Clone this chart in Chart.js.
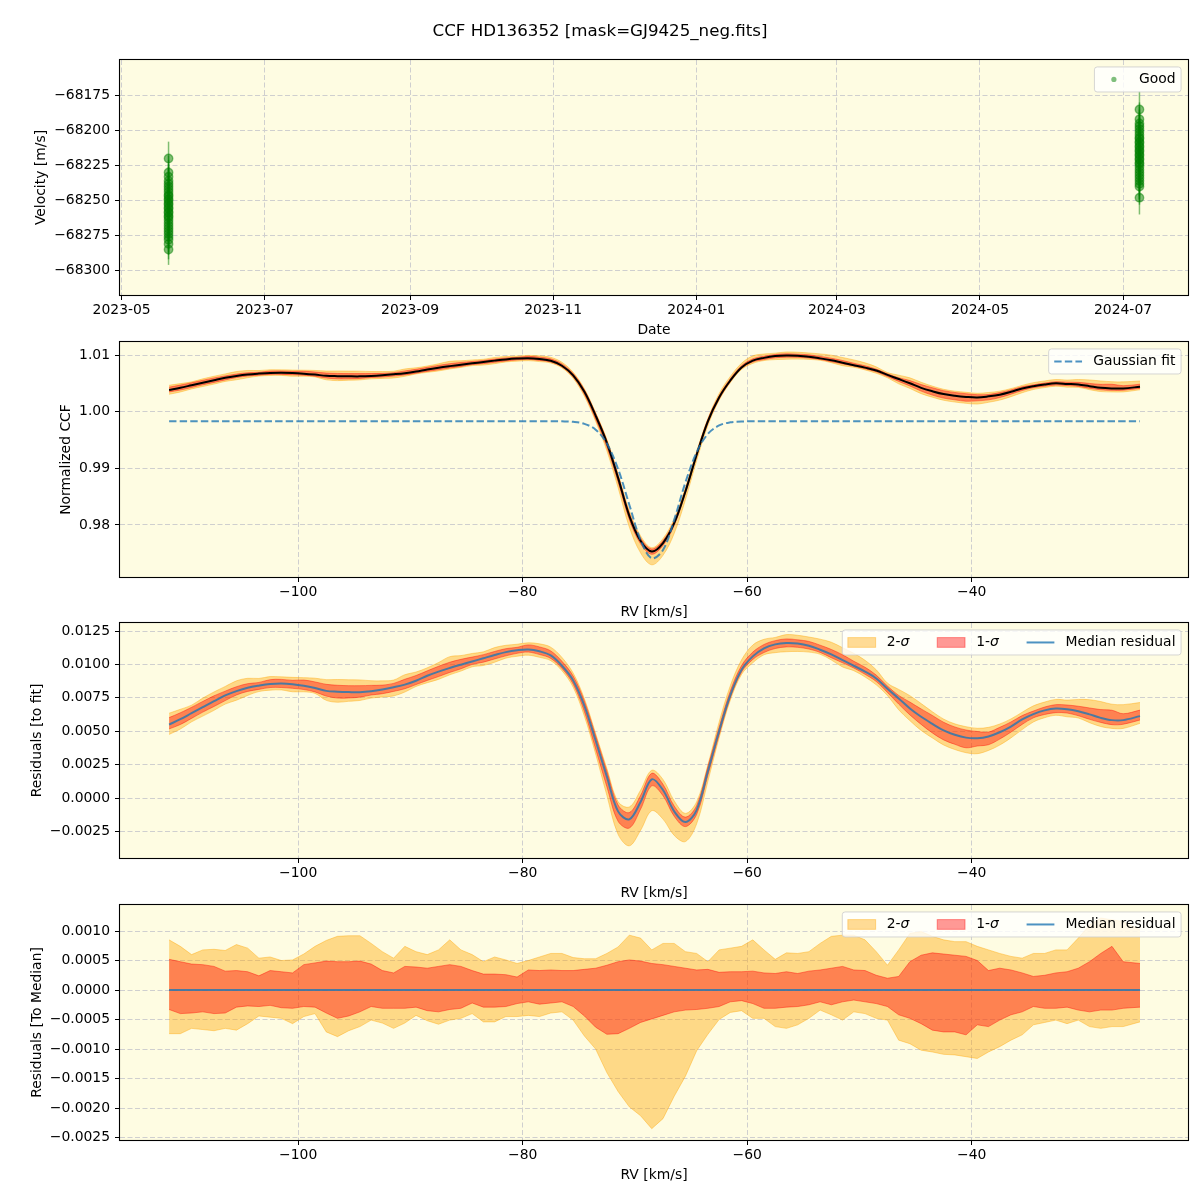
<!DOCTYPE html>
<html>
<head>
<meta charset="utf-8">
<title>CCF HD136352</title>
<script src="https://cdn.jsdelivr.net/npm/chart.js@4.4.1/dist/chart.umd.min.js"></script>
<style>
  html, body { margin:0; padding:0; background:#ffffff; }
  #fig { position:relative; width:1200px; height:1200px; overflow:hidden; background:#ffffff; }
  #fig canvas { position:absolute; left:0; }
</style>
</head>
<body>
<div id="fig">
  <canvas id="pRV"  width="1200" height="345" style="top:0px"></canvas>
  <canvas id="pCCF" width="1200" height="310" style="top:320px"></canvas>
  <canvas id="pFit" width="1200" height="310" style="top:600px"></canvas>
  <canvas id="pMed" width="1200" height="318" style="top:882px"></canvas>
</div>
<script>
// ====================== DATA ======================
const figureTitle = 'CCF HD136352 [mask=GJ9425_neg.fits]';

// --- Panel 1: radial velocities (two observing nights) ---
const nightDates = ['2023-05-21', '2024-07-08'];
const night1Vel = [-68252,-68244,-68261,-68238,-68270,-68249,-68256,-68233,-68276,-68247,-68259,-68220,-68264,-68242,-68253,-68281,-68236,-68268,-68250,-68258,-68230,-68274,-68246,-68262,-68255,-68240,-68285,-68266,-68272,-68278];
const night1Err = [11,12,11,12,11,12,11,12,11,12,12,12,11,12,11,11,12,11,12,12,12,11,12,11,12,12,11,11,12,11];
const night2Vel = [-68212,-68203,-68221,-68197,-68230,-68208,-68215,-68192,-68236,-68206,-68218,-68185,-68224,-68201,-68214,-68240,-68195,-68228,-68209,-68217,-68199,-68234,-68205,-68223,-68211,-68248,-68220,-68226,-68238,-68232];
const night2Err = [13,12,13,12,13,12,13,12,13,13,12,13,12,13,12,13,12,13,12,13,12,13,12,13,12,12,13,12,13,12];

const dateTickLabels = ['2023-05','2023-07','2023-09','2023-11','2024-01','2024-03','2024-05','2024-07'];
const velTicks = [-68300,-68275,-68250,-68225,-68200,-68175];
const velTickLabels = ['\u221268300','\u221268275','\u221268250','\u221268225','\u221268200','\u221268175'];

// --- Panels 2-4: CCF on the RV grid [km/s] ---
const rv = [-111.5,-110.5,-109.5,-108.5,-107.5,-106.5,-105.5,-104.5,-103.5,-102.5,
  -101.5,-100.5,-99.5,-98.5,-97.5,-96.5,-95.5,-94.5,-93.5,-92.5,
  -91.5,-90.5,-89.5,-88.5,-87.5,-86.5,-85.5,-84.5,-83.5,-82.5,
  -81.5,-80.5,-79.5,-78.5,-77.5,-76.5,-75.5,-74.5,-73.5,-72.5,
  -71.5,-70.5,-69.5,-68.5,-67.5,-66.5,-65.5,-64.5,-63.5,-62.5,
  -61.5,-60.5,-59.5,-58.5,-57.5,-56.5,-55.5,-54.5,-53.5,-52.5,
  -51.5,-50.5,-49.5,-48.5,-47.5,-46.5,-45.5,-44.5,-43.5,-42.5,
  -41.5,-40.5,-39.5,-38.5,-37.5,-36.5,-35.5,-34.5,-33.5,-32.5,
  -31.5,-30.5,-29.5,-28.5,-27.5,-26.5,-25.0];

// median normalized CCF
const ccfMedian = [1.00381,1.00421,1.00466,1.00511,1.00556,1.00599,1.00631,1.00656,1.00672,1.00684,
  1.00688,1.00683,1.00671,1.00654,1.00633,1.00627,1.00624,1.00623,1.00630,1.00643,
  1.00660,1.00680,1.00709,1.00746,1.00777,1.00804,1.00829,1.00853,1.00877,1.00901,
  1.00923,1.00937,1.00943,1.00929,1.00898,1.00810,1.00640,1.00350,0.99930,0.99450,
  0.98830,0.98160,0.97720,0.97530,0.97680,0.98030,0.98590,0.99240,0.99830,1.00250,
  1.00550,1.00780,1.00900,1.00950,1.00981,1.00991,1.00987,1.00971,1.00941,1.00906,
  1.00863,1.00821,1.00777,1.00726,1.00649,1.00576,1.00501,1.00420,1.00360,1.00310,
  1.00280,1.00260,1.00250,1.00270,1.00300,1.00350,1.00410,1.00450,1.00480,1.00500,
  1.00490,1.00480,1.00450,1.00420,1.00410,1.00410,1.00440];

// Gaussian fit sampled on the grid
const gaussFit = [0.99831,0.99831,0.99831,0.99831,0.99831,0.99831,0.99831,0.99831,0.99831,0.99831,
  0.99831,0.99831,0.99831,0.99831,0.99831,0.99831,0.99831,0.99831,0.99831,0.99831,
  0.99831,0.99831,0.99831,0.99831,0.99831,0.99831,0.99831,0.99831,0.99831,0.99831,
  0.99831,0.99831,0.99831,0.99831,0.99831,0.99829,0.99820,0.99785,0.99682,0.99438,
  0.98987,0.98357,0.97737,0.97411,0.97556,0.98092,0.98750,0.99284,0.99606,0.99756,
  0.99811,0.99826,0.99830,0.99831,0.99831,0.99831,0.99831,0.99831,0.99831,0.99831,
  0.99831,0.99831,0.99831,0.99831,0.99831,0.99831,0.99831,0.99831,0.99831,0.99831,
  0.99831,0.99831,0.99831,0.99831,0.99831,0.99831,0.99831,0.99831,0.99831,0.99831,
  0.99831,0.99831,0.99831,0.99831,0.99831,0.99831,0.99831];

// median residual to the fit
const residToFit = [0.00550,0.00590,0.00635,0.00680,0.00725,0.00768,0.00800,0.00825,0.00841,0.00853,
  0.00857,0.00852,0.00840,0.00823,0.00802,0.00796,0.00793,0.00792,0.00799,0.00812,
  0.00829,0.00849,0.00878,0.00915,0.00946,0.00973,0.00998,0.01022,0.01046,0.01070,
  0.01092,0.01106,0.01112,0.01098,0.01067,0.00990,0.00880,0.00690,0.00430,0.00160,
  -0.00100,-0.00160,-0.00030,0.00140,0.00060,-0.00100,-0.00180,-0.00090,0.00200,0.00500,
  0.00770,0.00960,0.01060,0.01120,0.01150,0.01160,0.01156,0.01140,0.01110,0.01075,
  0.01032,0.00990,0.00946,0.00895,0.00818,0.00745,0.00670,0.00608,0.00555,0.00506,
  0.00473,0.00452,0.00448,0.00461,0.00492,0.00535,0.00588,0.00628,0.00656,0.00670,
  0.00665,0.00650,0.00626,0.00600,0.00583,0.00583,0.00613];

// percentile offsets relative to the median (panel 4)
const sig2Hi = [0.00085,0.00074,0.00060,0.00068,0.00069,0.00067,0.00077,0.00071,0.00054,0.00056,
  0.00050,0.00051,0.00061,0.00074,0.00084,0.00091,0.00092,0.00092,0.00079,0.00065,
  0.00054,0.00074,0.00065,0.00060,0.00068,0.00085,0.00068,0.00060,0.00048,0.00056,
  0.00051,0.00045,0.00050,0.00056,0.00062,0.00062,0.00055,0.00053,0.00053,0.00062,
  0.00073,0.00093,0.00088,0.00068,0.00079,0.00079,0.00065,0.00062,0.00048,0.00068,
  0.00071,0.00074,0.00085,0.00068,0.00052,0.00063,0.00062,0.00065,0.00079,0.00091,
  0.00093,0.00093,0.00085,0.00065,0.00042,0.00068,0.00096,0.00099,0.00091,0.00085,
  0.00082,0.00082,0.00074,0.00068,0.00062,0.00057,0.00054,0.00062,0.00062,0.00068,
  0.00068,0.00088,0.00110,0.00122,0.00119,0.00116,0.00102];
const sig1Hi = [0.00052,0.00048,0.00044,0.00043,0.00040,0.00032,0.00033,0.00031,0.00024,0.00033,
  0.00031,0.00029,0.00043,0.00046,0.00049,0.00048,0.00048,0.00049,0.00044,0.00033,
  0.00029,0.00040,0.00039,0.00037,0.00040,0.00043,0.00040,0.00033,0.00027,0.00027,
  0.00026,0.00022,0.00034,0.00033,0.00034,0.00033,0.00033,0.00035,0.00037,0.00042,
  0.00048,0.00051,0.00049,0.00045,0.00043,0.00040,0.00037,0.00034,0.00035,0.00030,
  0.00031,0.00031,0.00032,0.00029,0.00028,0.00031,0.00028,0.00032,0.00034,0.00037,
  0.00040,0.00034,0.00033,0.00025,0.00020,0.00023,0.00048,0.00059,0.00063,0.00061,
  0.00059,0.00057,0.00050,0.00033,0.00037,0.00034,0.00029,0.00023,0.00025,0.00029,
  0.00031,0.00037,0.00048,0.00062,0.00074,0.00048,0.00045];
const sig1Lo = [-0.00033,-0.00040,-0.00039,-0.00037,-0.00040,-0.00039,-0.00029,-0.00027,-0.00028,-0.00026,
  -0.00030,-0.00031,-0.00028,-0.00029,-0.00039,-0.00048,-0.00044,-0.00037,-0.00028,-0.00031,
  -0.00031,-0.00031,-0.00029,-0.00035,-0.00037,-0.00033,-0.00031,-0.00022,-0.00029,-0.00029,
  -0.00028,-0.00023,-0.00020,-0.00024,-0.00022,-0.00020,-0.00028,-0.00044,-0.00063,-0.00075,
  -0.00074,-0.00065,-0.00055,-0.00049,-0.00043,-0.00037,-0.00034,-0.00033,-0.00031,-0.00028,
  -0.00020,-0.00018,-0.00023,-0.00031,-0.00031,-0.00029,-0.00028,-0.00025,-0.00020,-0.00025,
  -0.00020,-0.00017,-0.00020,-0.00023,-0.00028,-0.00042,-0.00048,-0.00057,-0.00068,-0.00071,
  -0.00071,-0.00076,-0.00059,-0.00062,-0.00051,-0.00042,-0.00037,-0.00028,-0.00031,-0.00031,
  -0.00029,-0.00034,-0.00037,-0.00034,-0.00034,-0.00031,-0.00029];
const sig2Lo = [-0.00074,-0.00074,-0.00065,-0.00067,-0.00069,-0.00065,-0.00068,-0.00057,-0.00044,-0.00046,
  -0.00048,-0.00057,-0.00045,-0.00040,-0.00071,-0.00079,-0.00069,-0.00062,-0.00051,-0.00056,
  -0.00065,-0.00056,-0.00043,-0.00052,-0.00058,-0.00051,-0.00048,-0.00040,-0.00054,-0.00054,
  -0.00045,-0.00045,-0.00043,-0.00045,-0.00039,-0.00037,-0.00051,-0.00078,-0.00100,-0.00140,
  -0.00172,-0.00198,-0.00213,-0.00235,-0.00218,-0.00180,-0.00146,-0.00103,-0.00075,-0.00050,
  -0.00038,-0.00035,-0.00048,-0.00048,-0.00062,-0.00065,-0.00059,-0.00048,-0.00034,-0.00042,
  -0.00051,-0.00037,-0.00040,-0.00048,-0.00051,-0.00085,-0.00091,-0.00102,-0.00105,-0.00109,
  -0.00110,-0.00113,-0.00116,-0.00105,-0.00096,-0.00085,-0.00076,-0.00059,-0.00055,-0.00051,
  -0.00057,-0.00051,-0.00062,-0.00065,-0.00062,-0.00062,-0.00054];
const toMedianLine = [0, 0];   // median residual to median (first and last grid point)

const rvTicks = [-100,-80,-60,-40];
const rvTickLabels = ['\u2212100','\u221280','\u221260','\u221240'];
const ccfTicks = [0.98,0.99,1.00,1.01];
const ccfTickLabels = ['0.98','0.99','1.00','1.01'];
const fitResTicks = [-0.0025,0,0.0025,0.005,0.0075,0.01,0.0125];
const fitResTickLabels = ['\u22120.0025','0.0000','0.0025','0.0050','0.0075','0.0100','0.0125'];
const medResTicks = [-0.0025,-0.002,-0.0015,-0.001,-0.0005,0,0.0005,0.001];
const medResTickLabels = ['\u22120.0025','\u22120.0020','\u22120.0015','\u22120.0010','\u22120.0005','0.0000','0.0005','0.0010'];

// ====================== STYLE ======================
const FS = 13.9, LH = FS * 1.2;
const AX_BG = 'rgb(254,252,226)';
const GRID_COLOR = '#cfcfcf';
const GRID_DASH = [5, 2.5];
const ORANGE40 = 'rgba(255,165,0,0.4)';
const RED40 = 'rgba(255,0,0,0.4)';
const C0 = 'rgba(31,119,180,0.8)';
const GREEN50 = 'rgba(0,128,0,0.5)';
const SMOOTH = 0.35;

Chart.defaults.font.family = '"DejaVu Sans", "Liberation Sans", sans-serif';
Chart.defaults.font.size = FS;
Chart.defaults.color = '#000';
Chart.defaults.animation = false;

// ====================== PLUGINS ======================
const axesBg = {
  id: 'axesBg',
  beforeDraw(chart) {
    const {ctx, chartArea: a} = chart;
    ctx.save(); ctx.fillStyle = AX_BG;
    ctx.fillRect(a.left, a.top, a.right - a.left, a.bottom - a.top);
    ctx.restore();
  }
};
const axesFrame = {
  id: 'axesFrame',
  afterDraw(chart) {
    const {ctx, chartArea: a} = chart;
    ctx.save(); ctx.strokeStyle = '#000'; ctx.lineWidth = 1.1;
    ctx.strokeRect(a.left - 0.5, a.top - 0.5, a.right - a.left + 1, a.bottom - a.top + 1);
    ctx.restore();
  }
};
const figTitle = {
  id: 'figTitle',
  afterDraw(chart, args, opts) {
    if (!opts || !opts.text) return;
    const ctx = chart.ctx;
    ctx.save();
    ctx.font = '16.67px "DejaVu Sans"';
    ctx.fillStyle = '#000'; ctx.textAlign = 'center'; ctx.textBaseline = 'middle';
    ctx.fillText(opts.text, opts.x, opts.y);
    ctx.restore();
  }
};
const errorBars = {
  id: 'errorBars',
  beforeDatasetsDraw(chart, args, opts) {
    const {ctx, chartArea: a, scales: {x, y}} = chart;
    ctx.save();
    ctx.beginPath(); ctx.rect(a.left, a.top, a.right - a.left, a.bottom - a.top); ctx.clip();
    chart.data.datasets.forEach(ds => {
      if (!ds.errors) return;
      ctx.strokeStyle = ds.errorColor; ctx.lineWidth = 1.5;
      ds.data.forEach((p, i) => {
        const px = x.getPixelForValue(p.x);
        ctx.beginPath();
        ctx.moveTo(px, y.getPixelForValue(p.y - ds.errors[i]));
        ctx.lineTo(px, y.getPixelForValue(p.y + ds.errors[i]));
        ctx.stroke();
      });
    });
    ctx.restore();
  }
};
function roundRectPath(ctx, x, y, w, h, r) {
  ctx.beginPath();
  ctx.moveTo(x + r, y); ctx.lineTo(x + w - r, y); ctx.arcTo(x + w, y, x + w, y + r, r);
  ctx.lineTo(x + w, y + h - r); ctx.arcTo(x + w, y + h, x + w - r, y + h, r);
  ctx.lineTo(x + r, y + h); ctx.arcTo(x, y + h, x, y + h - r, r);
  ctx.lineTo(x, y + r); ctx.arcTo(x, y, x + r, y, r); ctx.closePath();
}
const mplLegend = {
  id: 'mplLegend',
  afterDraw(chart, args, opts) {
    const items = opts && opts.items; if (!items || !items.length) return;
    const ctx = chart.ctx, a = chart.chartArea;
    const pad = 0.4 * FS, hl = 2 * FS, htp = 0.8 * FS, cs = 2 * FS, bap = 0.5 * FS;
    const normal = FS + 'px "DejaVu Sans"', ital = 'italic ' + FS + 'px "DejaVu Sans"';
    const segs = it => Array.isArray(it.label) ? it.label : [{text: it.label}];
    ctx.save();
    const tw = items.map(it => segs(it).reduce((w, s) => { ctx.font = s.italic ? ital : normal; return w + ctx.measureText(s.text).width; }, 0));
    const w = 2 * pad + items.reduce((acc, it, i) => acc + hl + htp + tw[i] + (i ? cs : 0), 0);
    const h = 2 * pad + FS;
    const x0 = a.right - bap - w, y0 = a.top + bap;
    roundRectPath(ctx, x0, y0, w, h, 0.2 * FS);
    ctx.fillStyle = 'rgba(255,255,255,0.8)'; ctx.fill();
    ctx.strokeStyle = 'rgba(204,204,204,0.8)'; ctx.lineWidth = 1; ctx.stroke();
    let x = x0 + pad; const cy = y0 + h / 2;
    items.forEach((it, i) => {
      if (it.type === 'marker') {
        ctx.beginPath(); ctx.arc(x + hl / 2, cy, 2.6, 0, Math.PI * 2);
        ctx.fillStyle = it.color; ctx.fill();
      } else if (it.type === 'line' || it.type === 'dash') {
        ctx.beginPath(); ctx.setLineDash(it.type === 'dash' ? [7.4, 3.2] : []);
        ctx.moveTo(x, cy); ctx.lineTo(x + hl, cy);
        ctx.strokeStyle = it.color; ctx.lineWidth = 2; ctx.stroke(); ctx.setLineDash([]);
      } else if (it.type === 'patch') {
        const ph = 0.7 * FS;
        ctx.fillStyle = it.color; ctx.fillRect(x, cy - ph / 2, hl, ph);
        ctx.strokeStyle = it.color; ctx.lineWidth = 1; ctx.strokeRect(x, cy - ph / 2, hl, ph);
      }
      let tx = x + hl + htp;
      ctx.fillStyle = '#000'; ctx.textBaseline = 'middle'; ctx.textAlign = 'left';
      segs(it).forEach(s => { ctx.font = s.italic ? ital : normal; ctx.fillText(s.text, tx, cy); tx += ctx.measureText(s.text).width; });
      x += hl + htp + tw[i] + cs;
    });
    ctx.restore();
  }
};

// ====================== HELPERS ======================
function axis(o) {
  return {
    type: 'linear', min: o.min, max: o.max, bounds: 'data',
    afterBuildTicks: s => { s.ticks = o.ticks.map(v => ({value: v})); },
    ticks: { autoSkip: false, maxRotation: 0, minRotation: 0, padding: o.isX ? 2.5 : 5,
             callback: (v, i) => o.labels[i], color: '#000', font: {size: FS} },
    grid: { color: GRID_COLOR, lineWidth: 1, tickLength: 5, tickColor: '#000', tickWidth: 1 },
    border: { display: false, dash: GRID_DASH },
    title: { display: true, text: o.title, color: '#000', font: {size: FS},
             padding: o.isX ? {top: 0, bottom: o.titlePad} : {top: o.titlePad, bottom: 0} },
    afterFit: s => { if (o.isX) s.height = o.size; else s.width = o.size; }
  };
}
function dayIndex(s) {
  const p = s.split('-').map(Number);
  return (Date.UTC(p[0], p[1] - 1, p[2] || 1) - Date.UTC(2023, 4, 1)) / 86400000;
}
const pts = ys => rv.map((x, i) => ({x, y: ys[i]}));
const plus = (base, off) => off.map((v, i) => (base ? base[i] : 0) + v);
function bands(center, smooth) {
  const c = { pointRadius: 0, borderWidth: 1, tension: smooth ? SMOOTH : 0 };
  return [
    Object.assign({label: '1-σ upper', data: pts(plus(center, sig1Hi)), fill: '+1', backgroundColor: RED40, borderColor: RED40}, c),
    Object.assign({label: '1-σ lower', data: pts(plus(center, sig1Lo)), fill: false, backgroundColor: RED40, borderColor: RED40}, c),
    Object.assign({label: '2-σ upper', data: pts(plus(center, sig2Hi)), fill: '+1', backgroundColor: ORANGE40, borderColor: ORANGE40}, c),
    Object.assign({label: '2-σ lower', data: pts(plus(center, sig2Lo)), fill: false, backgroundColor: ORANGE40, borderColor: ORANGE40}, c)
  ];
}
const sigmaLegend = [
  {type: 'patch', color: ORANGE40, label: [{text: '2-'}, {text: 'σ', italic: true}]},
  {type: 'patch', color: RED40, label: [{text: '1-'}, {text: 'σ', italic: true}]},
  {type: 'line', color: C0, label: 'Median residual'}
];
const rvRange = {min: -115.875, max: -20.725};
const basePlugins = { legend: {display: false}, tooltip: {enabled: false} };

// ====================== PANEL 1 ======================
const goodPoints = night1Vel.map(v => ({x: dayIndex(nightDates[0]), y: v}))
  .concat(night2Vel.map(v => ({x: dayIndex(nightDates[1]), y: v})));
const goodErrors = night1Err.concat(night2Err);
new Chart(document.getElementById('pRV'), {
  type: 'scatter',
  data: { datasets: [{ label: 'Good', data: goodPoints, errors: goodErrors, errorColor: GREEN50,
    backgroundColor: GREEN50, borderColor: GREEN50, borderWidth: 1.4, pointRadius: 4.2 }] },
  options: {
    responsive: false, animation: false, events: [],
    layout: { padding: {top: 60, right: 12, left: 0, bottom: 0} },
    scales: {
      x: axis({min: -0.7, max: 454.7, ticks: dateTickLabels.map(dayIndex), labels: dateTickLabels,
               title: 'Date', isX: true, size: 50, titlePad: 345 - 330 - LH / 2}),
      y: axis({min: -68317.5, max: -68149.7, ticks: velTicks, labels: velTickLabels,
               title: 'Velocity [m/s]', size: 120, titlePad: 41 - LH / 2})
    },
    plugins: Object.assign({}, basePlugins, {
      figTitle: {text: figureTitle, x: 600, y: 32},
      mplLegend: {items: [{type: 'marker', color: GREEN50, label: 'Good'}]}
    })
  },
  plugins: [axesBg, errorBars, axesFrame, mplLegend, figTitle]
});

// ====================== PANEL 2 ======================
new Chart(document.getElementById('pCCF'), {
  type: 'line',
  data: { datasets: [
    { label: 'Gaussian fit', data: pts(gaussFit), borderColor: C0, borderWidth: 2, borderDash: [7.4, 3.2],
      pointRadius: 0, fill: false, tension: SMOOTH },
    { label: 'CCF median', data: pts(ccfMedian), borderColor: '#000', borderWidth: 2,
      pointRadius: 0, fill: false, tension: SMOOTH }
  ].concat(bands(ccfMedian, true)) },
  options: {
    responsive: false, animation: false, events: [],
    layout: { padding: {top: 22, right: 12, left: 0, bottom: 0} },
    scales: {
      x: axis(Object.assign({ticks: rvTicks, labels: rvTickLabels, title: 'RV [km/s]', isX: true,
               size: 53, titlePad: 630 - 612 - LH / 2}, rvRange)),
      y: axis({min: 0.9708, max: 1.0123, ticks: ccfTicks, labels: ccfTickLabels,
               title: 'Normalized CCF', size: 120, titlePad: 66 - LH / 2})
    },
    plugins: Object.assign({}, basePlugins, {
      mplLegend: {items: [{type: 'dash', color: C0, label: 'Gaussian fit'}]}
    })
  },
  plugins: [axesBg, axesFrame, mplLegend]
});

// ====================== PANEL 3 ======================
new Chart(document.getElementById('pFit'), {
  type: 'line',
  data: { datasets: [
    { label: 'Median residual', data: pts(residToFit), borderColor: C0, borderWidth: 2,
      pointRadius: 0, fill: false, tension: SMOOTH }
  ].concat(bands(residToFit, true)) },
  options: {
    responsive: false, animation: false, events: [],
    layout: { padding: {top: 23, right: 12, left: 0, bottom: 0} },
    scales: {
      x: axis(Object.assign({ticks: rvTicks, labels: rvTickLabels, title: 'RV [km/s]', isX: true,
               size: 52, titlePad: 910 - 893 - LH / 2}, rvRange)),
      y: axis({min: -0.00449, max: 0.0131, ticks: fitResTicks, labels: fitResTickLabels,
               title: 'Residuals [to fit]', size: 120, titlePad: 37 - LH / 2})
    },
    plugins: Object.assign({}, basePlugins, { mplLegend: {items: sigmaLegend} })
  },
  plugins: [axesBg, axesFrame, mplLegend]
});

// ====================== PANEL 4 ======================
new Chart(document.getElementById('pMed'), {
  type: 'line',
  data: { datasets: [
    { label: 'Median residual', data: [{x: rv[0], y: toMedianLine[0]}, {x: rv[rv.length - 1], y: toMedianLine[1]}],
      borderColor: C0, borderWidth: 2, pointRadius: 0, fill: false }
  ].concat(bands(null, false)) },
  options: {
    responsive: false, animation: false, events: [],
    layout: { padding: {top: 23, right: 12, left: 0, bottom: 0} },
    scales: {
      x: axis(Object.assign({ticks: rvTicks, labels: rvTickLabels, title: 'RV [km/s]', isX: true,
               size: 60, titlePad: 1200 - 1175 - LH / 2}, rvRange)),
      y: axis({min: -0.002542, max: 0.001441, ticks: medResTicks, labels: medResTickLabels,
               title: 'Residuals [To Median]', size: 120, titlePad: 37 - LH / 2})
    },
    plugins: Object.assign({}, basePlugins, { mplLegend: {items: sigmaLegend} })
  },
  plugins: [axesBg, axesFrame, mplLegend]
});
</script>
</body>
</html>
